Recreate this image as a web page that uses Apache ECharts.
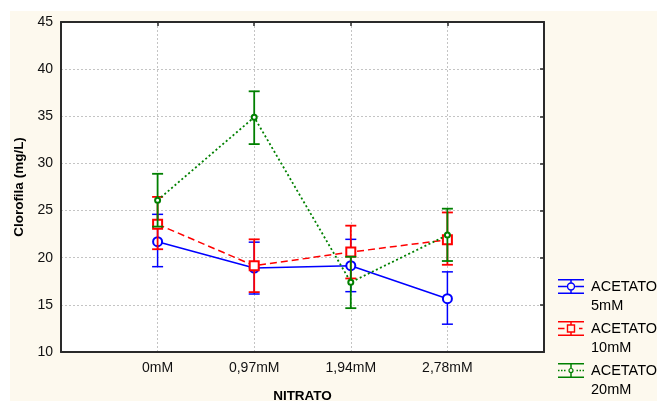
<!DOCTYPE html>
<html>
<head>
<meta charset="utf-8">
<script src="https://cdn.jsdelivr.net/npm/echarts@6/dist/echarts.min.js"></script>
<style>
    html, body { margin: 0; padding: 0; background: #fff; }
    #chart { width: 657px; height: 401px; }
</style>
</head>
<body>
<div id="chart"></div>
<script>
// categories on the x axis
var categories = ['0mM', '0,97mM', '1,94mM', '2,78mM']
var yTicks = [10, 15, 20, 25, 30, 35, 40, 45]

// ACETATO 5mM
var acet5 = [21.7, 18.9, 19.15, 15.65]
var acet5Low = [19.05, 16.15, 16.4, 12.95]
var acet5High = [24.6, 21.65, 21.95, 18.5]
// ACETATO 10mM
var acet10 = [23.55, 19.15, 20.6, 21.9]
var acet10Low = [20.9, 16.35, 17.8, 19.25]
var acet10High = [26.45, 21.95, 23.4, 24.8]
// ACETATO 20mM
var acet20 = [26.1, 34.9, 17.4, 22.4]
var acet20Low = [23.3, 32.05, 14.65, 19.65]
var acet20High = [28.9, 37.65, 20.1, 25.2]

var names = ['ACETATO\n5mM', 'ACETATO\n10mM', 'ACETATO\n20mM']
var colors = ['#0000ff', '#ff0000', '#008000']

var font = 'Liberation Sans, Arial, sans-serif'

function points(vals) {
    return vals.map(function (v, i) { return [i + 1, v] })
}
function bars(lo, hi) {
    return lo.map(function (v, i) { return [i + 1, v, hi[i]] })
}

function errorBar(color, width) {
    return function (params, api) {
        var x = api.value(0)
        var top = api.coord([x, api.value(2)])
        var bot = api.coord([x, api.value(1)])
        var half = 5.5
        var style = { stroke: color, lineWidth: width }
        return {
            type: 'group',
            children: [
                { type: 'line', shape: { x1: top[0], y1: top[1], x2: bot[0], y2: bot[1] }, style: style },
                { type: 'line', shape: { x1: top[0] - half, y1: top[1], x2: top[0] + half, y2: top[1] }, style: style },
                { type: 'line', shape: { x1: bot[0] - half, y1: bot[1], x2: bot[0] + half, y2: bot[1] }, style: style },
            ],
        }
    }
}

// legend icons: error bar + line + marker, padded downwards so the icon sits on the first text line
var pad = 'M0 34L0.01 34'
var icon5 = 'path://M0 0H26V1.5H0Z M0 13.5H26V15H0Z M12.25 1.5H13.75V3.3H12.25Z M12.25 11.7H13.75V13.5H12.25Z' +
    ' M0 6.75H8.8V8.25H0Z M17.2 6.75H26V8.25H17.2Z' +
    ' M17.2 7.5A4.2 4.2 0 1 0 8.8 7.5A4.2 4.2 0 1 0 17.2 7.5Z M15.8 7.5A2.8 2.8 0 1 1 10.2 7.5A2.8 2.8 0 1 1 15.8 7.5Z ' + pad
var icon10 = 'path://M0 0H26V1.5H0Z M0 13.5H26V15H0Z M12.25 1.5H13.75V3.3H12.25Z M12.25 11.7H13.75V13.5H12.25Z' +
    ' M0 6.75H6.5V8.25H0Z M21 6.75H24.5V8.25H21Z' +
    ' M8.8 3.3H17.2V11.7H8.8Z M10.2 4.7V10.3H15.8V4.7Z ' + pad
var icon20 = 'path://M0 0H26V1.5H0Z M0 13.5H26V15H0Z M12.25 1.5H13.75V4.9H12.25Z M12.25 10.1H13.75V13.5H12.25Z' +
    ' M0 6.75H1.5V8.25H0Z M3 6.75H4.5V8.25H3Z M6 6.75H7.5V8.25H6Z' +
    ' M18.5 6.75H20V8.25H18.5Z M21.5 6.75H23V8.25H21.5Z M24.5 6.75H26V8.25H24.5Z' +
    ' M15.6 7.5A2.6 2.6 0 1 0 10.4 7.5A2.6 2.6 0 1 0 15.6 7.5Z M14.4 7.5A1.4 1.4 0 1 1 11.6 7.5A1.4 1.4 0 1 1 14.4 7.5Z ' + pad

var chart = echarts.init(document.getElementById('chart'), null, { renderer: 'canvas' })

chart.setOption({
    backgroundColor: '#ffffff',
    animation: false,
    graphic: [
        {
            type: 'rect',
            z: -10,
            left: 10,
            top: 11,
            shape: { width: 647, height: 390 },
            style: { fill: '#fdf9ee' },
        },
    ],
    grid: {
        left: 61,
        right: 113,
        top: 22,
        bottom: 49,
        show: true,
        backgroundColor: '#ffffff',
        borderWidth: 0,
        outerBoundsMode: 'none',
    },
    legend: {
        orient: 'vertical',
        left: 558,
        top: 277,
        padding: 0,
        itemGap: 4,
        itemWidth: 26,
        itemHeight: 34,
        selectedMode: false,
        itemStyle: { borderWidth: 0 },
        textStyle: {
            fontFamily: font,
            fontSize: 14.5,
            lineHeight: 19,
            color: '#000',
            padding: [0, 0, 0, 2],
        },
        data: [
            { name: names[0], icon: icon5, itemStyle: { color: colors[0], borderWidth: 0 } },
            { name: names[1], icon: icon10, itemStyle: { color: colors[1], borderWidth: 0 } },
            { name: names[2], icon: icon20, itemStyle: { color: colors[2], borderWidth: 0 } },
        ],
    },
    xAxis: [
        {
            type: 'value',
            min: 0,
            max: 5,
            interval: 1,
            name: 'NITRATO',
            nameLocation: 'middle',
            nameGap: 37,
            nameTextStyle: { fontFamily: font, fontSize: 13.5, fontWeight: 'bold', color: '#000' },
            axisLine: { show: true, onZero: false, lineStyle: { color: '#2a2a2a', width: 2 } },
            axisTick: { show: false },
            axisLabel: {
                fontFamily: font,
                fontSize: 14,
                color: '#111',
                margin: 9,
                formatter: function (v) { return categories[v - 1] || '' },
            },
            splitLine: { show: true, lineStyle: { color: '#c4c4c4', type: [2, 2], width: 1 } },
        },
        {
            type: 'value',
            position: 'top',
            min: 0,
            max: 5,
            interval: 1,
            axisLine: { show: true, onZero: false, lineStyle: { color: '#2a2a2a', width: 2 } },
            axisTick: { show: true, inside: true, length: 4, lineStyle: { color: '#2a2a2a', width: 1.5 } },
            axisLabel: { show: false },
            splitLine: { show: false },
        },
    ],
    yAxis: [
        {
            type: 'value',
            min: yTicks[0],
            max: yTicks[yTicks.length - 1],
            interval: 5,
            name: 'Clorofila (mg/L)',
            nameLocation: 'middle',
            nameGap: 35,
            nameTextStyle: { fontFamily: font, fontSize: 13.5, fontWeight: 'bold', color: '#000' },
            axisLine: { show: true, onZero: false, lineStyle: { color: '#2a2a2a', width: 2 } },
            axisTick: { show: false },
            axisLabel: { fontFamily: font, fontSize: 14, color: '#111', margin: 8 },
            splitLine: { show: true, lineStyle: { color: '#c4c4c4', type: [2, 2], width: 1 } },
        },
        {
            type: 'value',
            position: 'right',
            min: yTicks[0],
            max: yTicks[yTicks.length - 1],
            interval: 5,
            axisLine: { show: true, onZero: false, lineStyle: { color: '#2a2a2a', width: 2 } },
            axisTick: { show: true, inside: true, length: 4, lineStyle: { color: '#2a2a2a', width: 1.5 } },
            axisLabel: { show: false },
            splitLine: { show: false },
        },
    ],
    series: [
        {
            name: names[0],
            type: 'custom',
            renderItem: errorBar(colors[0], 1.5),
            encode: { x: 0, y: [1, 2] },
            data: bars(acet5Low, acet5High),
            z: 3,
        },
        {
            name: names[0],
            type: 'line',
            data: points(acet5),
            symbol: 'emptyCircle',
            symbolSize: 9,
            color: colors[0],
            lineStyle: { color: colors[0], width: 1.5, type: 'solid' },
            itemStyle: { color: colors[0], borderWidth: 1.5 },
            z: 4,
        },
        {
            name: names[1],
            type: 'custom',
            renderItem: errorBar(colors[1], 1.8),
            encode: { x: 0, y: [1, 2] },
            data: bars(acet10Low, acet10High),
            z: 5,
        },
        {
            name: names[1],
            type: 'line',
            data: points(acet10),
            symbol: 'emptyRect',
            symbolSize: 9,
            color: colors[1],
            lineStyle: { color: colors[1], width: 1.5, type: [7, 4] },
            itemStyle: { color: colors[1], borderWidth: 1.5 },
            z: 6,
        },
        {
            name: names[2],
            type: 'custom',
            renderItem: errorBar(colors[2], 1.8),
            encode: { x: 0, y: [1, 2] },
            data: bars(acet20Low, acet20High),
            z: 7,
        },
        {
            name: names[2],
            type: 'line',
            data: points(acet20),
            symbol: 'emptyCircle',
            symbolSize: 5,
            color: colors[2],
            lineStyle: { color: colors[2], width: 1.8, type: [2, 2.5] },
            itemStyle: { color: colors[2], borderWidth: 1.2 },
            z: 8,
        },
    ],
})
</script>
</body>
</html>
